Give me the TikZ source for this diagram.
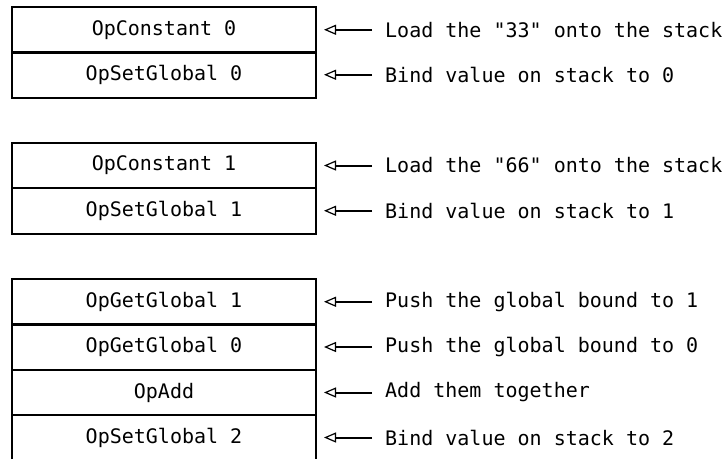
\documentclass[tikz,border=0pt]{standalone}
\usepackage{fontspec}
\setmonofont{DejaVu Sans Mono}
\usetikzlibrary{arrows.meta}
\begin{document}
\begin{tikzpicture}[x=1pt,y=-1pt,
  cell/.style={minimum width=304pt,minimum height=45.5pt,inner sep=0pt,outer sep=0pt,
    font=\ttfamily\fontsize{20}{24}\selectfont,line width=2pt},
  boxed/.style={cell,draw},
  lbl/.style={anchor=west,inner sep=0pt,font=\ttfamily\fontsize{20}{24}\selectfont},
  arr/.style={line width=2pt,-{Triangle[open,length=12pt,width=10pt,line width=1.2pt]}}]
\useasboundingbox (0,0) rectangle (728,459);
% group 1
\node[boxed] (c1) at (164,29.75) {OpConstant 0};
\node[boxed] (c2) at (164,74.75) {OpSetGlobal 0};
% group 2
\node[boxed] (c3) at (164,165.5) {OpConstant 1};
\node[boxed] (c4) at (164,210.75) {OpSetGlobal 1};
% group 3
\node[boxed] (c5) at (164,301.75) {OpGetGlobal 1};
\node[boxed] (c6) at (164,347) {OpGetGlobal 0};
\node[boxed] (c7) at (164,392.5) {OpAdd};
\node[cell] (c8) at (164,437.5) {OpSetGlobal 2};
\coordinate (b8l) at (12,459);
\coordinate (b8r) at (316,459);
\draw[line width=2pt] (b8l) -- (c8.north west) -- (c8.north east) -- (b8r);
% labels
\node[lbl] (l1) at (385,29.75) {Load the "33" onto the stack};
\node[lbl] (l2) at (385,74.75) {Bind value on stack to 0};
\node[lbl] (l3) at (385,165.5) {Load the "66" onto the stack};
\node[lbl] (l4) at (385,210.75) {Bind value on stack to 1};
\node[lbl] (l5) at (385,301.75) {Push the global bound to 1};
\node[lbl] (l6) at (385,347) {Push the global bound to 0};
\node[lbl] (l7) at (385,392.5) {Add them together};
\node[lbl] (l8) at (385,437.5) {Bind value on stack to 2};
\foreach \i in {1,...,8}{
  \draw[arr] ([xshift=-13pt]l\i.west) -- ([xshift=8pt]c\i.east);
}
\end{tikzpicture}
\end{document}
